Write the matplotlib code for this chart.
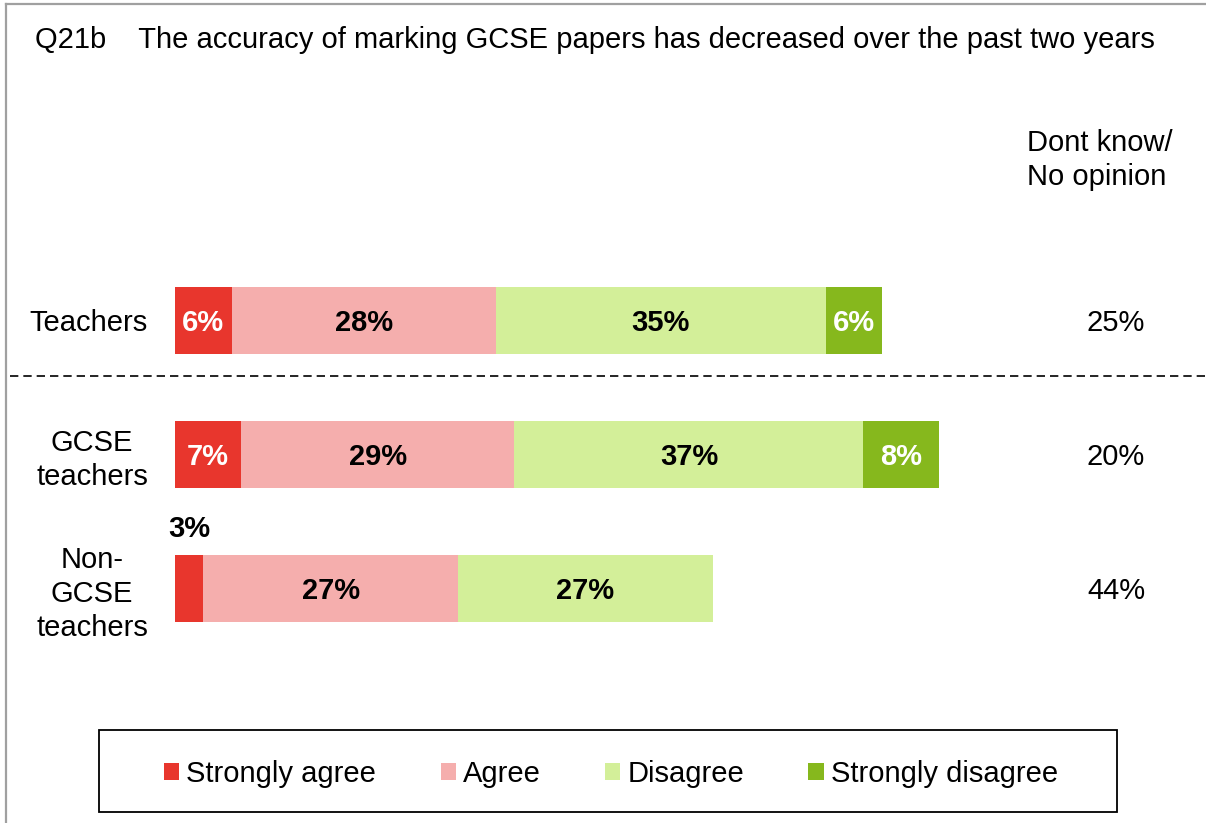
import matplotlib.pyplot as plt
from matplotlib.patches import Patch, Rectangle
from matplotlib.lines import Line2D
from matplotlib.transforms import blended_transform_factory

plt.rcParams['font.family'] = ['Liberation Sans', 'DejaVu Sans']

title = 'Q21b    The accuracy of marking GCSE papers has decreased over the past two years'
groups = ['Teachers', 'GCSE\nteachers', 'Non-\nGCSE\nteachers']
responses = ['Strongly agree', 'Agree', 'Disagree', 'Strongly disagree']
strongly_agree = [6, 7, 3]
agree = [28, 29, 27]
disagree = [35, 37, 27]
strongly_disagree = [6, 8, 0]
dont_know = [25, 20, 44]

colors = ['#E8362D', '#F5AEAD', '#D3EF99', '#86B81D']
text_colors = ['white', 'black', 'black', 'white']
FS = 21

W, H = 1206, 823
fig = plt.figure(figsize=(W / 100, H / 100), dpi=100)

# frame round the slide (only left/top edges fall inside the image)
fig.add_artist(Line2D([6 / W, 6 / W], [0, 1 - 4 / H], transform=fig.transFigure,
                      color='#A0A0A0', lw=1.6))
fig.add_artist(Line2D([6 / W, 1], [1 - 4 / H, 1 - 4 / H], transform=fig.transFigure,
                      color='#A0A0A0', lw=1.6))

ax = fig.add_axes([175 / W, 1 - 655 / H, 943 / W, 402 / H])
ax.set_xlim(0, 100)
ax.set_ylim(len(groups) - 0.5, -0.5)
for s in ax.spines.values():
    s.set_visible(False)
ax.set_xticks([])
ypos = list(range(len(groups)))
ax.set_yticks(ypos, groups, fontsize=FS)
ax.tick_params(axis='y', length=0, pad=19.5)
for t in ax.get_yticklabels():
    t.set_multialignment('center')
    t.set_linespacing(1.27)

left = [0] * len(groups)
for series, color, tcol in zip([strongly_agree, agree, disagree, strongly_disagree],
                               colors, text_colors):
    ax.barh(ypos, series, left=left, height=0.5, color=color, linewidth=0)
    for y, v, l in zip(ypos, series, left):
        if v == 0:
            continue
        if v < 5:
            # too narrow: put the label above the bar
            ax.annotate(f'{v}%', (l + v / 2, y - 0.25), xytext=(0, 8),
                        textcoords='offset points', ha='center', va='bottom',
                        fontsize=FS, fontweight='bold', color='black')
        else:
            ax.text(l + v / 2, y, f'{v}%', ha='center', va='center_baseline',
                    fontsize=FS, fontweight='bold', color=tcol)
    left = [a + b for a, b in zip(left, series)]

# don't know column
trans = blended_transform_factory(fig.transFigure, ax.transData)
for y, v in zip(ypos, dont_know):
    ax.text(1116 / W, y, f'{v}%', transform=trans, ha='center',
            va='center_baseline', fontsize=FS, clip_on=False)
fig.text(1027 / W, 1 - 160 / H, 'Dont know/\nNo opinion', ha='left', va='center',
         fontsize=FS, linespacing=1.3)

fig.text(35 / W, 1 - 48 / H, title, ha='left', va='baseline', fontsize=FS)

# separator between all teachers and the sub-groups
fig.add_artist(Line2D([10 / W, 1], [1 - 376 / H, 1 - 376 / H], transform=fig.transFigure,
                      color='black', lw=1.2, linestyle=(0, (5, 3))))

# legend with its own box
fig.add_artist(Rectangle((99 / W, 1 - 812 / H), (1117 - 99) / W, 82 / H,
                         transform=fig.transFigure, fill=False, edgecolor='black', lw=1.3))
handles = [Patch(facecolor=c, edgecolor='none') for c in colors]
fig.legend(handles, responses, loc='center', ncol=4, frameon=False,
           bbox_to_anchor=(611 / W, 1 - 774 / H), fontsize=FS,
           handlelength=0.52, handleheight=0.52, handletextpad=0.25,
           columnspacing=2.2, borderpad=0, borderaxespad=0)

fig.savefig('out.png', dpi=100)
